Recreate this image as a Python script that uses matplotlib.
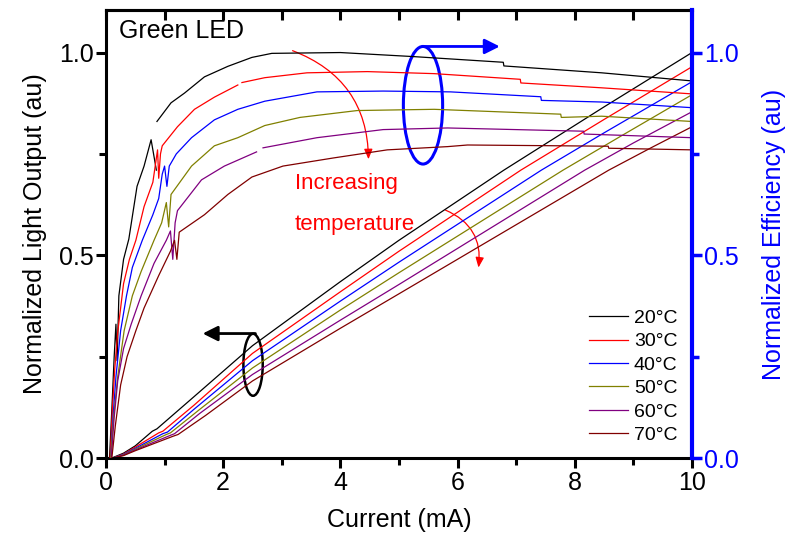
import matplotlib

matplotlib.use("Agg")
import matplotlib.pyplot as plt  # noqa: E402
from matplotlib.patches import Ellipse, FancyArrowPatch  # noqa: E402
from matplotlib.ticker import MultipleLocator  # noqa: E402

nan = float("nan")

temperatures = ["20°C", "30°C", "40°C", "50°C", "60°C", "70°C"]
colors = ["#000000", "#ff0000", "#0000ff", "#808000", "#800080", "#800000"]

# light output vs current (left axis)
current_lop_20 = [0.1, 0.3, 0.5, 0.79, 0.87, 1.5, 2.5, 4.0, 5.0, 6.79, 8.5, 10.0]
lop_20 = [0.0, 0.012, 0.03, 0.066, 0.072, 0.151, 0.277, 0.435, 0.537, 0.71, 0.866, 1.0]
current_lop_30 = [0.12, 0.3, 0.5, 0.9, 0.97, 1.5, 2.5, 4.0, 5.0, 7.08, 8.5, 10.0]
lop_30 = [0.0, 0.01, 0.027, 0.062, 0.066, 0.13, 0.258, 0.41, 0.51, 0.71, 0.835, 0.965]
current_lop_40 = [0.12, 0.3, 0.5, 0.97, 1.05, 1.5, 2.5, 4.0, 5.0, 7.43, 8.5, 10.0]
lop_40 = [0.0, 0.009, 0.024, 0.06, 0.064, 0.12, 0.24, 0.387, 0.483, 0.71, 0.802, 0.928]
current_lop_50 = [0.12, 0.3, 0.5, 1.03, 1.1, 1.6, 2.5, 4.0, 5.0, 7.8, 8.8, 10.0]
lop_50 = [0.0, 0.008, 0.022, 0.058, 0.062, 0.12, 0.222, 0.365, 0.457, 0.71, 0.795, 0.896]
current_lop_60 = [0.12, 0.3, 0.5, 1.1, 1.17, 1.6, 2.5, 4.0, 5.0, 8.17, 9.0, 10.0]
lop_60 = [0.0, 0.007, 0.02, 0.056, 0.06, 0.11, 0.206, 0.34, 0.428, 0.71, 0.777, 0.854]
current_lop_70 = [0.12, 0.3, 0.5, 1.15, 1.23, 1.7, 2.5, 4.0, 5.0, 8.58, 9.3, 10.0]
lop_70 = [0.0, 0.006, 0.018, 0.054, 0.058, 0.105, 0.19, 0.32, 0.405, 0.71, 0.765, 0.817]

# efficiency vs current (right axis), nan marks a break in the trace
current_eff_20 = [0.06, 0.1, 0.14, 0.17, 0.19, 0.22, 0.3, 0.39, 0.53, 0.65, 0.77, 0.86, nan,
                  0.87, 1.11, 1.34, 1.68, 2.08, 2.49, 2.83, 4.0, 5.25, 6.78, 6.79, 8.46, 10.0]
eff_20 = [0.0, 0.12, 0.25, 0.33, 0.24, 0.40, 0.49, 0.54, 0.67, 0.72, 0.785, 0.71, nan,
          0.83, 0.876, 0.90, 0.94, 0.966, 0.988, 0.998, 1.0, 0.99, 0.976, 0.967, 0.95, 0.93]
current_eff_30 = [0.07, 0.11, 0.15, 0.2, 0.3, 0.4, 0.51, 0.65, 0.8, 0.88, 0.9, 0.93, 0.96,
                  1.22, 1.51, 1.85, 2.25, nan, 2.32, 2.71, 3.43, 4.46, 5.6, 7.07, 7.08,
                  8.46, 10.0]
eff_30 = [0.0, 0.12, 0.22, 0.31, 0.43, 0.49, 0.537, 0.62, 0.68, 0.76, 0.69, 0.75, 0.77,
          0.817, 0.86, 0.89, 0.92, nan, 0.926, 0.938, 0.95, 0.953, 0.948, 0.934, 0.925,
          0.913, 0.898]
current_eff_40 = [0.08, 0.12, 0.17, 0.25, 0.35, 0.45, 0.62, 0.8, 0.9, 0.96, 1.0, 1.04, 1.08,
                  1.2, 1.46, 1.85, 2.25, 2.71, 3.6, 4.73, 5.88, 7.42, 7.43, 8.46, 10.0]
eff_40 = [0.0, 0.1, 0.2, 0.314, 0.4, 0.47, 0.537, 0.6, 0.64, 0.70, 0.72, 0.67, 0.72,
          0.75, 0.79, 0.834, 0.86, 0.88, 0.903, 0.905, 0.903, 0.891, 0.882, 0.878, 0.864]
current_eff_50 = [0.08, 0.13, 0.2, 0.31, 0.45, 0.6, 0.82, 0.95, 1.03, 1.07, 1.11, 1.46, 1.85,
                  2.25, 2.71, 3.31, 4.29, 5.6, 7.76, 7.77, 8.46, 10.0]
eff_50 = [0.0, 0.1, 0.2, 0.314, 0.4, 0.46, 0.537, 0.58, 0.63, 0.57, 0.65, 0.72, 0.77,
          0.79, 0.82, 0.84, 0.857, 0.86, 0.848, 0.84, 0.843, 0.83]
current_eff_60 = [0.09, 0.14, 0.2, 0.3, 0.43, 0.6, 0.82, 1.03, 1.1, 1.14, 1.18, 1.22, 1.63,
                  2.02, 2.57, nan, 2.68, 3.6, 4.73, 5.83, 8.15, 8.16, 10.0]
eff_60 = [0.0, 0.1, 0.19, 0.27, 0.33, 0.4, 0.48, 0.537, 0.56, 0.49, 0.58, 0.61, 0.686,
          0.72, 0.755, nan, 0.765, 0.79, 0.81, 0.814, 0.806, 0.799, 0.79]
current_eff_70 = [0.1, 0.16, 0.25, 0.36, 0.51, 0.65, 0.9, 1.1, 1.17, 1.21, 1.25, 1.68, 2.08,
                  2.49, 3.02, 3.88, 4.8, 5.83, 6.17, 8.57, 8.58, 10.0]
eff_70 = [0.0, 0.08, 0.18, 0.25, 0.314, 0.37, 0.45, 0.51, 0.537, 0.49, 0.557, 0.60, 0.65,
          0.693, 0.72, 0.74, 0.76, 0.768, 0.772, 0.769, 0.764, 0.76]

lop_series = [
    (current_lop_20, lop_20), (current_lop_30, lop_30), (current_lop_40, lop_40),
    (current_lop_50, lop_50), (current_lop_60, lop_60), (current_lop_70, lop_70),
]
eff_series = [
    (current_eff_20, eff_20), (current_eff_30, eff_30), (current_eff_40, eff_40),
    (current_eff_50, eff_50), (current_eff_60, eff_60), (current_eff_70, eff_70),
]

plt.rcParams["font.family"] = ["Liberation Sans", "DejaVu Sans"]

fig = plt.figure(figsize=(7.85, 5.45), dpi=100)
ax = fig.add_axes([0.135, 0.1596, 0.7465, 0.8221])
ax2 = ax.twinx()

for (cur, lop), color, label in zip(lop_series, colors, temperatures):
    ax.plot(cur, lop, color=color, lw=0.9, label=label)
for (cur, eff), color in zip(eff_series, colors):
    ax2.plot(cur, eff, color=color, lw=0.9)

ax.set_xlim(0, 10)
ax.set_ylim(0, 1.105)
ax2.set_ylim(0, 1.105)

ax.xaxis.set_major_locator(MultipleLocator(2))
ax.xaxis.set_minor_locator(MultipleLocator(1))
for a in (ax, ax2):
    a.yaxis.set_major_locator(MultipleLocator(0.5))
    a.yaxis.set_minor_locator(MultipleLocator(0.25))
ax.yaxis.set_major_formatter(lambda v, pos: f"{v:.1f}")
ax2.yaxis.set_major_formatter(lambda v, pos: f"{v:.1f}")

for side in ("left", "bottom", "top"):
    ax.spines[side].set_linewidth(2.2)
ax.spines["right"].set_visible(False)
ax2.spines["right"].set_color("#0000ff")
ax2.spines["right"].set_linewidth(3)
for side in ("left", "bottom", "top"):
    ax2.spines[side].set_visible(False)

ax.tick_params(axis="both", which="major", direction="out", length=7, width=2.2,
               labelsize=18, pad=2)
ax.tick_params(axis="both", which="minor", direction="out", length=5, width=2.2)
ax2.tick_params(axis="y", which="major", direction="out", length=7, width=2.5,
                labelsize=18, colors="#0000ff", pad=2)
ax2.tick_params(axis="y", which="minor", direction="out", length=5, width=2.5,
                colors="#0000ff")

# top axis carries inward ticks only
top = ax.secondary_xaxis("top")
top.xaxis.set_major_locator(MultipleLocator(2))
top.xaxis.set_minor_locator(MultipleLocator(1))
top.tick_params(which="both", direction="in", length=7, width=2.2, labeltop=False)
top.spines["top"].set_linewidth(2.2)

ax.set_xlabel("Current (mA)", fontsize=18, labelpad=10)
ax.set_ylabel("Normalized Light Output (au)", fontsize=18, labelpad=8)
ax2.set_ylabel("Normalized Efficiency (au)", fontsize=18, color="#0000ff", labelpad=16)

ax.text(0.22, 1.052, "Green LED", fontsize=18, va="center", ha="left")
ax.text(3.22, 0.678, "Increasing", fontsize=16, color="#ff0000", va="center")
ax.text(3.22, 0.577, "temperature", fontsize=16, color="#ff0000", va="center")

# curved arrows showing the temperature trend
ax.add_patch(FancyArrowPatch((3.14, 1.007), (4.48, 0.73), connectionstyle="arc3,rad=-0.35",
                             arrowstyle="-|>,head_length=6,head_width=2.5",
                             color="#ff0000", lw=0.9))
ax.add_patch(FancyArrowPatch((5.75, 0.614), (6.35, 0.463), connectionstyle="arc3,rad=-0.4",
                             arrowstyle="-|>,head_length=6,head_width=2.5",
                             color="#ff0000", lw=0.9))

# ellipses marking which axis each family of curves belongs to
ax.add_patch(Ellipse((5.41, 0.87), 0.67, 0.29, fill=False, ec="#0000ff", lw=2.2))
ax.annotate("", xy=(6.72, 1.015), xytext=(5.41, 1.015),
            arrowprops=dict(arrowstyle="-|>,head_length=0.9,head_width=0.45",
                            color="#0000ff", lw=2, shrinkA=0, shrinkB=0))
ax.add_patch(Ellipse((2.51, 0.23), 0.33, 0.153, fill=False, ec="#000000", lw=1.8))
ax.annotate("", xy=(1.65, 0.307), xytext=(2.55, 0.307),
            arrowprops=dict(arrowstyle="-|>,head_length=0.9,head_width=0.45",
                            color="#000000", lw=2, shrinkA=0, shrinkB=0))

ax.legend(loc="lower right", bbox_to_anchor=(0.995, 0.005), frameon=False, fontsize=14,
          handlelength=2.0, handletextpad=0.3, labelspacing=0.3, borderaxespad=0.2)

fig.savefig("out.png", dpi=100)
